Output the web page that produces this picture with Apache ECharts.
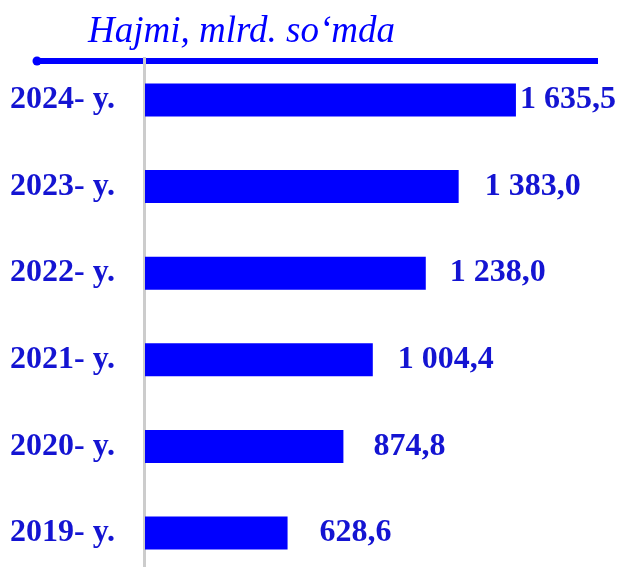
<!DOCTYPE html>
<html>
<head>
<meta charset="utf-8">
<script src="https://cdn.jsdelivr.net/npm/echarts@6/dist/echarts.min.js"></script>
<style>html,body{margin:0;padding:0;background:#fff;}#c{width:620px;height:567px;}</style>
</head>
<body>
<div id="c"></div>
<script>
const categories = ['2019- y.', '2020- y.', '2021- y.', '2022- y.', '2023- y.', '2024- y.'];
const values = [628.6, 874.8, 1004.4, 1238.0, 1383.0, 1635.5];
const valueLabels = ['628,6', '874,8', '1 004,4', '1 238,0', '1 383,0', '1 635,5'];
const titleText = 'Hajmi, mlrd. so\u2018mda';
const labelGaps = [32, 30, 25, 24, 26, 4];

const chart = echarts.init(document.getElementById('c'), null, {renderer: 'canvas'});
const serif = '"Liberation Serif", "Times New Roman", serif';
chart.setOption({
  animation: false,
  backgroundColor: '#fff',
  title: {
    text: titleText,
    left: 83, top: 9,
    textStyle: {fontFamily: serif, fontStyle: 'italic', fontWeight: 'normal', fontSize: 37, color: '#0000FF'}
  },
  graphic: [
    {type: 'line', shape: {x1: 36, y1: 61, x2: 598, y2: 61}, style: {stroke: '#0000FF', lineWidth: 6}, z: 1},
    {type: 'circle', shape: {cx: 37, cy: 61, r: 4.5}, style: {fill: '#0000FF'}, z: 1},
    {type: 'line', shape: {x1: 144.5, y1: 57, x2: 144.5, y2: 567}, style: {stroke: '#cccccc', lineWidth: 3}, z: 2}
  ],
  grid: {left: 145, top: 100, width: 453.6, height: 433},
  xAxis: {type: 'value', min: 0, max: 2000, show: false},
  yAxis: {
    type: 'category', data: categories, boundaryGap: false,
    axisLine: {show: false},
    axisTick: {show: false},
    axisLabel: {margin: 30, fontFamily: serif, fontWeight: 'bold', fontSize: 32, color: '#1414D2'}
  },
  series: [{
    type: 'bar',
    data: values.map((v, i) => ({value: v, label: {distance: labelGaps[i]}})),
    barWidth: 33,
    itemStyle: {color: '#0000FF'},
    label: {
      show: true, position: 'right',
      fontFamily: serif, fontWeight: 'bold', fontSize: 32, color: '#1414D2',
      formatter: p => valueLabels[p.dataIndex]
    }
  }]
});
</script>
</body>
</html>
